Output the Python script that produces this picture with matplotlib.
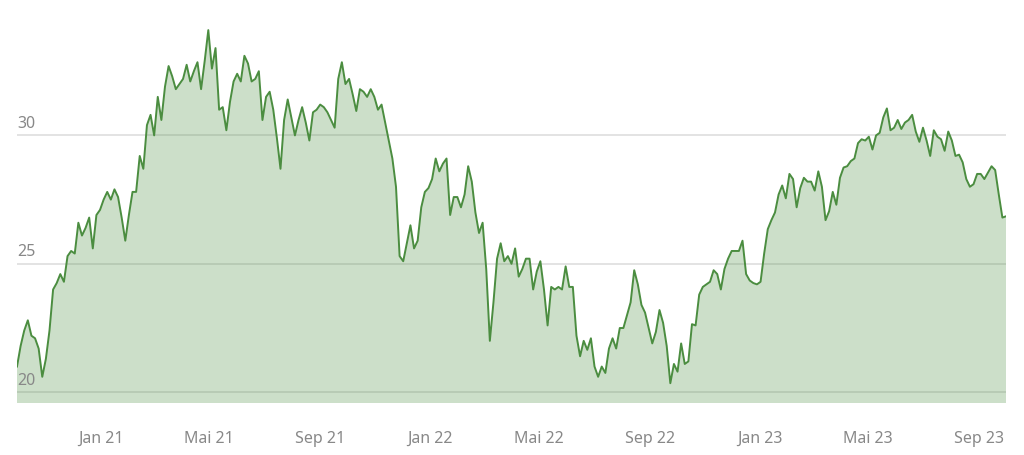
import numpy as np
import pandas as pd
import matplotlib
matplotlib.use("Agg")
import matplotlib.pyplot as plt
import matplotlib.dates as mdates

# price series, one value every 4 days starting 2020-09-30
start_date = "2020-09-30"
step = "4D"
prices = [
  21.0, 21.8, 22.4, 22.8, 22.2, 22.1, 21.7, 20.6, 21.3, 22.4,
  24.0, 24.25, 24.6, 24.3, 25.3, 25.5, 25.4, 26.6, 26.1, 26.4,
  26.8, 25.6, 26.9, 27.1, 27.5, 27.8, 27.5, 27.9, 27.6, 26.8,
  25.9, 26.9, 27.8, 27.8, 29.2, 28.7, 30.4, 30.8, 30.0, 31.5,
  30.6, 31.9, 32.7, 32.3, 31.8, 32.0, 32.2, 32.75, 32.1, 32.5,
  32.85, 31.8, 32.9, 34.1, 32.6, 33.4, 31.0, 31.1, 30.2, 31.3,
  32.1, 32.4, 32.1, 33.1, 32.8, 32.1, 32.2, 32.5, 30.6, 31.5,
  31.7, 31.0, 29.9, 28.7, 30.6, 31.4, 30.7, 30.0, 30.6, 31.1,
  30.5, 29.8, 30.9, 31.0, 31.2, 31.1, 30.9, 30.6, 30.3, 32.2,
  32.85, 32.0, 32.2, 31.6, 30.95, 31.8, 31.7, 31.5, 31.8, 31.5,
  31.0, 31.2, 30.5, 29.8, 29.1, 28.0, 25.3, 25.1, 25.8, 26.5,
  25.6, 25.9, 27.2, 27.8, 27.95, 28.3, 29.1, 28.6, 28.9, 29.1,
  26.9, 27.6, 27.6, 27.2, 27.7, 28.8, 28.2, 27.0, 26.2, 26.6,
  24.8, 22.0, 23.5, 25.2, 25.8, 25.1, 25.3, 25.0, 25.6, 24.5,
  24.8, 25.2, 25.2, 24.0, 24.7, 25.1, 24.0, 22.6, 24.1, 24.0,
  24.1, 24.0, 24.9, 24.1, 24.1, 22.2, 21.4, 22.0, 21.65, 22.1,
  21.0, 20.6, 21.0, 20.75, 21.7, 22.1, 21.7, 22.5, 22.5, 23.0,
  23.5, 24.75, 24.2, 23.4, 23.1, 22.5, 21.9, 22.35, 23.2, 22.7,
  21.8, 20.35, 21.1, 20.8, 21.9, 21.1, 21.2, 22.65, 22.6, 23.8,
  24.1, 24.2, 24.3, 24.75, 24.6, 24.0, 24.8, 25.2, 25.5, 25.5,
  25.5, 25.9, 24.6, 24.35, 24.25, 24.2, 24.3, 25.4, 26.35, 26.7,
  27.0, 27.7, 28.05, 27.55, 28.5, 28.3, 27.2, 27.95, 28.35, 28.2,
  28.2, 27.85, 28.6, 28.0, 26.7, 27.05, 27.8, 27.3, 28.35, 28.75,
  28.8, 29.0, 29.1, 29.7, 29.85, 29.8, 29.95, 29.45, 30.0, 30.1,
  30.7, 31.05, 30.2, 30.3, 30.6, 30.25, 30.5, 30.6, 30.8, 30.15,
  29.75, 30.3, 29.8, 29.2, 30.2, 29.95, 29.85, 29.4, 30.15, 29.8,
  29.2, 29.25, 28.95, 28.3, 28.0, 28.1, 28.5, 28.5, 28.3, 28.55,
  28.8, 28.65, 27.7, 26.8, 26.85,
]
y_ticks = [20, 25, 30]
month_names = {1: "Jan", 5: "Mai", 9: "Sep"}

dates = pd.date_range(start_date, periods=len(prices), freq=step)

LINE = "#4b8d40"
GRID = "#dedede"
TXT = "#888888"

fig = plt.figure(figsize=(10.24, 4.55), dpi=100)
ax = fig.add_axes([17/1024, 52/455, 989/1024, 396/455])

# grid under a translucent fill so it shows through darker
for yv in y_ticks:
  ax.axhline(yv, color=GRID, lw=1.2, zorder=1)
ax.fill_between(dates, prices, 0, color=LINE, alpha=0.28, lw=0, zorder=2)
ax.plot(dates, prices, color=LINE, lw=1.4, zorder=3)

ax.set_ylim(19.58, 35.0)
ax.set_xlim(dates[0], dates[-1])

for s in ax.spines.values():
  s.set_visible(False)
ax.set_yticks([])
for yv in y_ticks:
  ax.annotate(str(yv), xy=(0, yv), xycoords=("axes fraction", "data"),
              xytext=(0, 5.5), textcoords="offset points",
              ha="left", va="baseline", fontsize=11.5, color=TXT, family="Noto Sans")

ax.xaxis.set_major_locator(mdates.MonthLocator(bymonth=[1, 5, 9]))
ax.xaxis.set_major_formatter(plt.FuncFormatter(
  lambda v, p: "%s %s" % (month_names[mdates.num2date(v).month], mdates.num2date(v).strftime("%y"))))
ax.tick_params(axis="x", length=0, pad=20, labelsize=11.5, labelcolor=TXT)
for lbl in ax.get_xticklabels():
  lbl.set_family("Noto Sans")

fig.savefig("out.png", dpi=100)
